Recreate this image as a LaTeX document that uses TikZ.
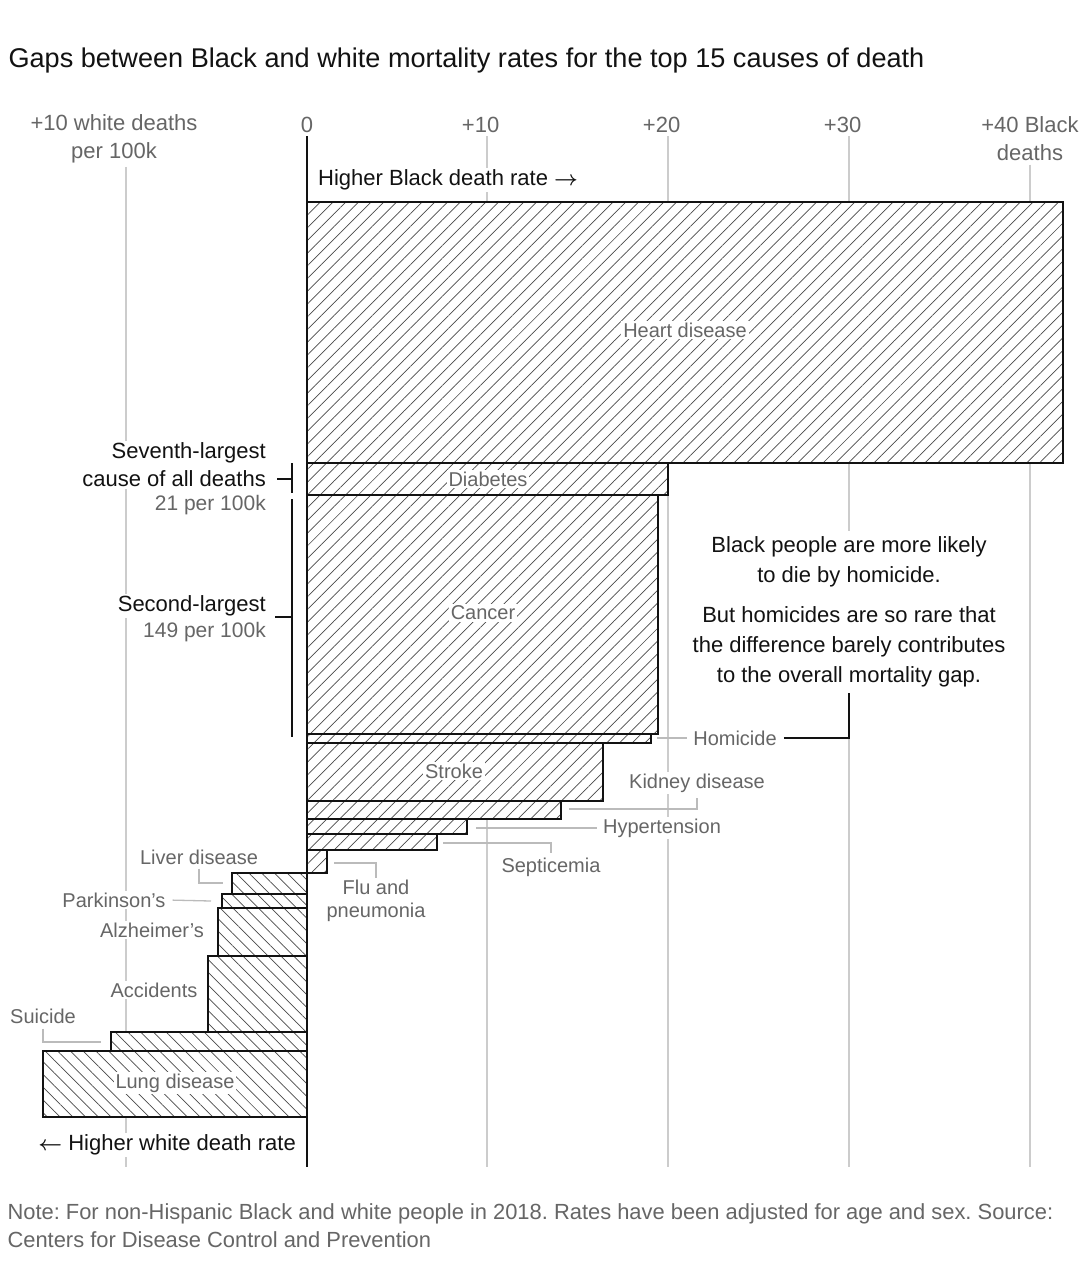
\documentclass[tikz,border=0pt]{standalone}
\usepackage{fontspec}
\setmainfont{Liberation Sans}
\usepackage{xcolor}
\usepackage{tikz}
\usetikzlibrary{patterns.meta}
\frenchspacing
\definecolor{ink}{HTML}{121212}
\definecolor{muted}{HTML}{666666}
\definecolor{gridc}{HTML}{CCCCCC}
\definecolor{leadc}{HTML}{BBBBBB}
\definecolor{hatch}{HTML}{4A4A4A}
\tikzset{
  grid/.style={draw=gridc, line width=1.4pt},
  axis/.style={draw=ink, line width=1.8pt},
  blk/.style={draw=ink, line width=1.8pt, preaction={fill=white},
    pattern={Lines[angle=45,distance=9pt,line width=0.7pt]}, pattern color=hatch},
  wht/.style={draw=ink, line width=1.8pt, preaction={fill=white},
    pattern={Lines[angle=-45,distance=9pt,line width=0.7pt]}, pattern color=hatch},
  lead/.style={draw=leadc, line width=1.3pt},
  call/.style={draw=ink, line width=1.6pt},
  head/.style={text=ink, font=\fontsize{27.1}{32}\selectfont},
  tick/.style={text=muted, font=\fontsize{22}{28}\selectfont, align=center},
  txt/.style={text=ink, font=\fontsize{22}{28}\selectfont, fill=white, inner sep=2pt},
  sub/.style={text=muted, font=\fontsize{21}{26}\selectfont, fill=white, inner sep=2pt},
  lab/.style={text=muted, font=\fontsize{20}{23}\selectfont, fill=white, inner sep=2pt},
  note/.style={text=muted, font=\fontsize{21.9}{28}\selectfont, align=left},
}
\begin{document}
\begin{tikzpicture}[x=1pt,y=-1pt]
  \useasboundingbox[fill=white] (0,0) rectangle (1090,1286);
  \coordinate (bot) at (0,1167);
  \node[head, anchor=west] (title) at (5,60) {Gaps between Black and white mortality rates for the top 15 causes of death};

  % axis labels and gridlines
  \node[tick] (tm10) at (114,139) {+10 white deaths\\per 100k};
  \node[tick] (t0) at (307,125) {0};
  \node[tick] (t10) at (487,125) {\llap{+}10};
  \node[tick] (t20) at (668,125) {\llap{+}20};
  \node[tick] (t30) at (849,125) {\llap{+}30};
  \node[tick] (t40) at (1030,139) {+40 Black\\deaths};
  \draw[grid] (126,0 |- tm10.south) -- (126,0 |- bot);
  \draw[grid] (t10.south) -- (t10.south |- bot);
  \draw[grid] (t20.south) -- (t20.south |- bot);
  \draw[grid] (t30.south) -- (t30.south |- bot);
  \draw[grid] (t40.south) -- (t40.south |- bot);

  % bars, higher Black rate
  \draw[blk] (307,202) rectangle (1063,463);
  \draw[blk] (307,463) rectangle (668,495);
  \draw[blk] (307,495) rectangle (658,734);
  \draw[blk] (307,734) rectangle (651,743);
  \draw[blk] (307,743) rectangle (603,801);
  \draw[blk] (307,801) rectangle (561,819);
  \draw[blk] (307,819) rectangle (467,834);
  \draw[blk] (307,834) rectangle (437,850);
  \draw[blk] (307,850) rectangle (327,873);
  % bars, higher white rate
  \draw[wht] (232,873) rectangle (307,894);
  \draw[wht] (222,894) rectangle (307,908);
  \draw[wht] (218,908) rectangle (307,956);
  \draw[wht] (208,956) rectangle (307,1032);
  \draw[wht] (111,1032) rectangle (307,1051);
  \draw[wht] (43,1051) rectangle (307,1117);
  \draw[axis] (t0.south) -- (t0.south |- bot);

  \node[txt, anchor=west] (blackRate) at (316,180) {Higher Black death rate {\boldmath$\rightarrow$}};
  \node[txt, anchor=east] (whiteRate) at (298,1145) {{\boldmath$\leftarrow$} Higher white death rate};

  % brackets on the left
  \node[txt, align=right, anchor=east] (sev) at (268,465) {Seventh-largest\\cause of all deaths};
  \node[sub, anchor=east] (sevRate) at (268,505) {21 per 100k};
  \node[txt, anchor=east] (sec) at (268,606) {Second-largest};
  \node[sub, anchor=east] (secRate) at (268,632) {149 per 100k};
  \coordinate (b1a) at (292,463);
  \coordinate (b1b) at (292,493);
  \coordinate (b1m) at (292,479);
  \coordinate (b2a) at (292,499);
  \coordinate (b2b) at (292,737);
  \coordinate (b2m) at (292,617);
  \draw[call] (b1a) -- (b1b);
  \draw[call] (b1m) -- ++(-15,0);
  \draw[call] (b2a) -- (b2b);
  \draw[call] (b2m) -- ++(-17,0);

  % labels in the bars
  \node[lab] (heart) at (685,330) {Heart disease};
  \node[lab] (diab) at (488,479) {Diabetes};
  \node[lab] (canc) at (483,613) {Cancer};
  \node[lab] (strk) at (454,771) {Stroke};
  \node[lab] (lung) at (175,1083) {Lung disease};

  % labels beside the bars
  \node[lab] (hom) at (735,738) {Homicide};
  \node[lab] (kid) at (697,783) {Kidney disease};
  \node[lab] (hyp) at (662,828) {Hypertension};
  \node[lab] (sept) at (551,867) {Septicemia};
  \node[lab, align=center] (flu) at (376,901) {Flu and\\pneumonia};
  \node[lab] (liv) at (199,857) {Liver disease};
  \node[lab] (park) at (114,900) {Parkinson's};
  \node[lab] (alz) at (152,930) {Alzheimer's};
  \node[lab] (acc) at (154,990) {Accidents};
  \node[lab] (sui) at (43,1016) {Suicide};

  \coordinate (homE) at (657,738);
  \coordinate (kidE) at (569,809);
  \coordinate (hypE) at (476,828);
  \coordinate (sepE) at (443,843);
  \coordinate (fluE) at (334,863);
  \coordinate (livE) at (223,883);
  \coordinate (parE) at (211,901);
  \coordinate (suiE) at (101,1042);
  \draw[lead, shorten >=4pt] (homE) -- (hom.west);
  \draw[lead, shorten >=3pt] (kidE) -| (kid.south);
  \draw[lead, shorten >=4pt] (hypE) -- (hyp.west);
  \draw[lead, shorten >=2pt] (sepE) -| (sept.north);
  \draw[lead] (fluE) -| (flu.north);
  \draw[lead, shorten <=2pt] (liv.south) |- (livE);
  \draw[lead, shorten <=5pt] (park.east) -- (parE);
  \draw[lead, shorten <=3pt] (sui.south) |- (suiE);

  % homicide note
  \node[txt, align=center, font=\fontsize{22}{30}\selectfont, inner sep=6pt] (ann) at (849,612)
    {Black people are more likely\\to die by homicide.\\[10pt]But homicides are so rare that\\the difference barely contributes\\to the overall mortality gap.};
  \draw[call, shorten <=5pt] (hom.east) -| (ann.south);

  \node[note, anchor=west] (src) at (4,1226) {Note: For non-Hispanic Black and white people in 2018. Rates have been adjusted for age and sex. Source:\\Centers for Disease Control and Prevention};
\end{tikzpicture}
\end{document}
